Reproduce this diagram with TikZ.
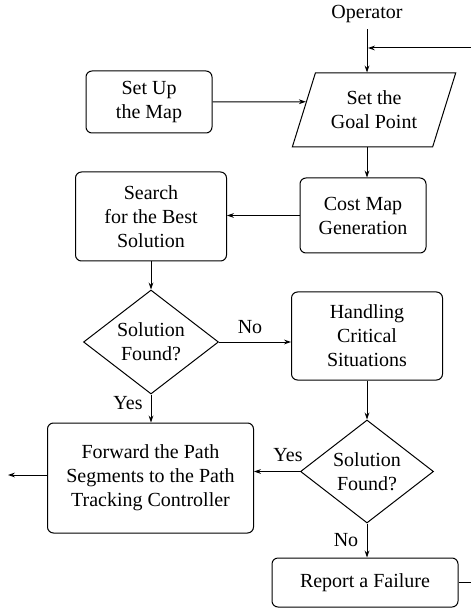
\documentclass[tikz,border=0pt]{standalone}
\usepackage{fontspec}
\setmainfont{Liberation Serif}
\usetikzlibrary{shapes.geometric,arrows.meta,calc}

\begin{document}
\begin{tikzpicture}[x=0.5pt,y=-0.5pt,line width=0.5pt,
  >={Stealth[length=3.5pt,width=2.4pt]},
  block/.style={rectangle,draw,rounded corners=3pt,align=center,inner sep=1pt},
  decision/.style={diamond,draw,aspect=1.3,align=center,inner sep=0pt},
  io/.style={trapezium,draw,trapezium left angle=66,trapezium right angle=114,
    trapezium stretches=true,align=center,inner sep=0pt}]
\useasboundingbox (0,0) rectangle (470,608);
\node [inner sep=3pt] (op) at (367,14) {Operator};
\node [block,minimum width=63pt,minimum height=31pt] (setup) at (149,102) {Set Up\\the Map};
\node [io,minimum width=82pt,minimum height=37pt] (goal) at (374,110) {Set the\\Goal Point};
\node [block,minimum width=63pt,minimum height=37.5pt] (cost) at (363,215.5) {Cost Map\\Generation};
\node [block,minimum width=75.5pt,minimum height=44.5pt] (search) at (151,216.5) {Search\\for the Best\\Solution};
\node [decision,minimum width=67.5pt,minimum height=52pt] (found1) at (151,342) {Solution\\Found?};
\node [block,minimum width=75.5pt,minimum height=44pt] (handle) at (367,336) {Handling\\Critical\\Situations};
\node [decision,minimum width=66.5pt,minimum height=51.5pt] (found2) at (367,471.5) {Solution\\Found?};
\node [block,minimum width=103pt,minimum height=55pt] (forward) at (150.5,478) {Forward the Path\\Segments to the Path\\Tracking Controller};
\node [block,minimum width=93pt,minimum height=24.5pt] (report) at (365,582.5) {Report a Failure};

\node (no1) at (250,327) {No};
\node (yes1) at (128,403) {Yes};
\node (yes2) at (288,455) {Yes};
\node (no2) at (346,540) {No};

\coordinate (goalin) at ($(goal.top left corner)!0.39!(goal.bottom left corner)$);
\coordinate (out) at (8,475);
\coordinate (loop) at (476,48);
\coordinate (fbin) at (368,48);

\draw[->] (op.south) -- (op.south |- goal.north);
\draw[->] (setup) -- (goalin);
\draw[->] (op.south |- goal.south) -- (op.south |- cost.north);
\draw[->] (cost) -- (cost -| search.east);
\draw[->] (search) -- (found1);
\draw[->] (found1) -- (found1 -| handle.west);
\draw[->] (found1) -- (found1 |- forward.north);
\draw[->] (handle) -- (found2);
\draw[->] (found2) -- (found2 -| forward.east);
\draw[->] (found2) -- (found2 |- report.north);
\draw[->] (forward.west |- out) -- (out);
\draw[->] (report.east) -| (loop) -- (fbin);
\end{tikzpicture}
\end{document}
